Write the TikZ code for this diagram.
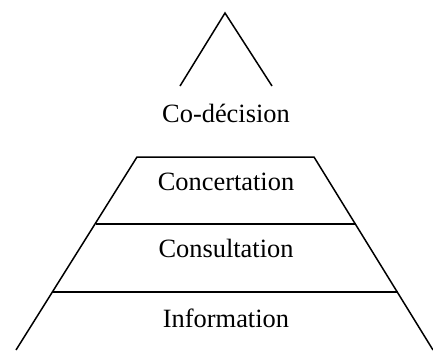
\documentclass[tikz,border=0pt]{standalone}
\usepackage{fontspec}
\setmainfont{Liberation Serif}
\begin{document}
\begin{tikzpicture}[x=1pt,y=-1pt,
  edge/.style={line width=1.5pt,line join=miter},
  lbl/.style={inner sep=0pt,anchor=base,font=\fontsize{26.4}{32}\selectfont}]
\useasboundingbox (0,0) rectangle (433,354);
% top triangle
\coordinate (apex) at (225,13);
\coordinate (tl) at (180,86);
\coordinate (tr) at (272,86);
\draw[edge] (tl) -- (apex) -- (tr);
\node[lbl] (codec) at (226,122) {Co-décision};
% trapezoid
\coordinate (a1) at (137,157);
\coordinate (a2) at (314,157);
\coordinate (b1) at (96,224);
\coordinate (b2) at (356,224);
\coordinate (c1) at (52,292);
\coordinate (c2) at (398,292);
\coordinate (d1) at (16,350);
\coordinate (d2) at (433,350);
\draw[edge] (d1) -- (a1) -- (a2) -- (d2);
\draw[edge] (b1) -- (b2);
\draw[edge] (c1) -- (c2);
\node[lbl] (conc) at (226,190) {Concertation};
\node[lbl] (cons) at (226,257) {Consultation};
\node[lbl] (info) at (226,327) {Information};
\end{tikzpicture}
\end{document}
